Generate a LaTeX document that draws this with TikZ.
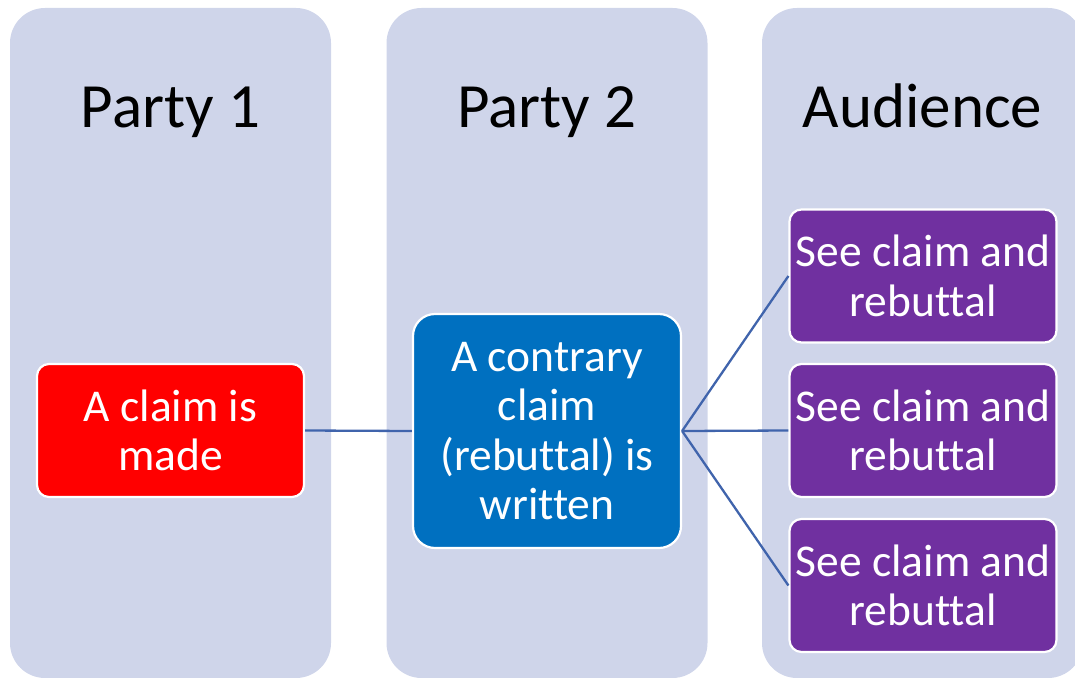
\documentclass[tikz,border=0pt]{standalone}
\usepackage{fontspec}
\setmainfont{Carlito}[Ligatures=NoCommon,Contextuals=NoAlternate]
\definecolor{colfill}{HTML}{CFD5EA}
\definecolor{claimred}{HTML}{FF0000}
\definecolor{rebutblue}{HTML}{0070C0}
\definecolor{audpurple}{HTML}{7030A0}
\definecolor{connline}{RGB}{64,100,172}
\begin{document}
\begin{tikzpicture}[x=1pt,y=-1pt,
  column/.style={fill=colfill, draw=none, rounded corners=35pt, minimum width=321pt, minimum height=670pt, inner sep=0pt},
  head/.style={anchor=base, font=\fontsize{63}{70}\selectfont, text=black, inner sep=0pt},
  box/.style={draw=white, line width=2.2pt, text=white, align=center, inner sep=0pt,
    font=\fontsize{45.5}{49.5}\selectfont, minimum width=267pt},
  smallbox/.style={box, rounded corners=12pt, minimum height=133pt},
  conn/.style={draw=connline, line width=2.3pt}
]
\useasboundingbox (0,0) rectangle (1075,677);
\clip (0,0) rectangle (1075,677);
% columns
\node[column] (col1) at (170.5,343) {};
\node[column] (col2) at (547,343) {};
\node[column] (col3) at (922.5,343) {};
% headers
\node[head] (h1) at (170.5,127) {Party 1};
\node[head] (h2) at (547,127) {Party 2};
\node[head] (h3) at (922.5,127) {Audience};
% boxes
\node[smallbox, fill=claimred] (claim) at (170.5,430.5) {A claim is\\made};
\node[box, fill=rebutblue, rounded corners=22pt, minimum width=268pt, minimum height=234pt] (rebut) at (547,431) {A contrary\\claim\\(rebuttal) is\\written};
\node[smallbox, fill=audpurple] (a1) at (923,276) {See claim and\\rebuttal};
\node[smallbox, fill=audpurple] (a2) at (923,430.5) {See claim and\\rebuttal};
\node[smallbox, fill=audpurple] (a3) at (923,585.5) {See claim and\\rebuttal};
% connectors
\draw[conn] (claim.east) -- (rebut.west);
\draw[conn] (rebut.east) -- (a1.west);
\draw[conn] (rebut.east) -- (a2.west);
\draw[conn] (rebut.east) -- (a3.west);
\end{tikzpicture}
\end{document}
